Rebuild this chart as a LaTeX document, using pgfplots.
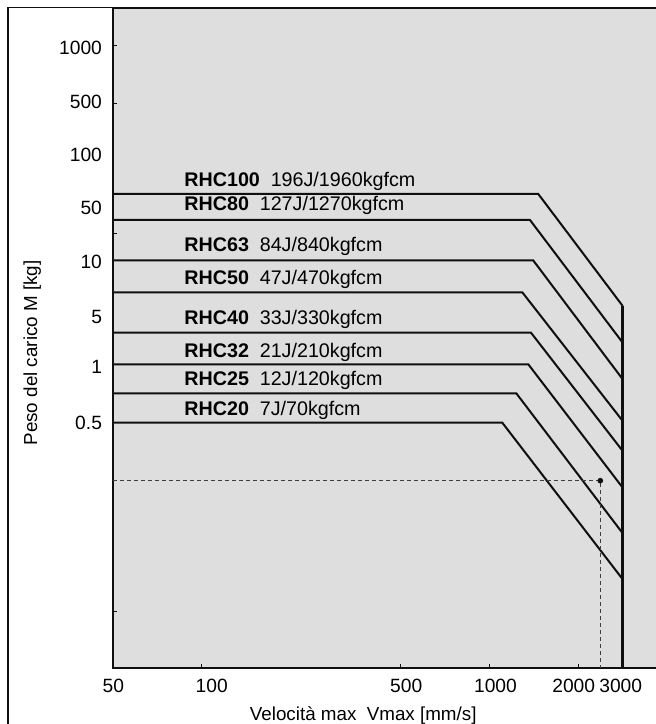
\documentclass[border=0pt]{standalone}
\usepackage{fontspec}
\setmainfont{Liberation Sans}
\usepackage{pgfplots}
\pgfplotsset{compat=1.18}
\definecolor{bg}{RGB}{222,222,222}
\definecolor{ln}{RGB}{15,15,15}
\begin{document}
\begin{tikzpicture}
\useasboundingbox (-56.5pt,-28pt) rectangle (271.5pt,334pt);
\clip (-56.5pt,-28pt) rectangle (271.5pt,334pt);
\begin{axis}[
  at={(0pt,0pt)}, anchor=south west,
  scale only axis, width=280pt, height=330pt,
  xmin=0, xmax=560, ymin=0, ymax=660,
  axis background/.style={fill=bg},
  axis line style={draw=ln, line width=0.55pt},
  tick align=inside, xtick pos=left, ytick pos=left,
  major tick length=0pt,
  tick style={draw=ln, line width=0.5pt},
  xtick={0.3,98.7,293.2,382.5,460.7,507.7},
  xticklabels={50,100,500,1000,2000,3000},
  ytick={245.3,301,351.3,406,460.2,512.8,565.8,620.5},
  yticklabels={0.5,1,5,10,50,100,500,1000},
  extra x ticks={88.7,288,377,465.7},
  extra x tick labels={},
  extra x tick style={major tick length=2pt},
  extra y ticks={57,434,564,622.3},
  extra y tick labels={},
  extra y tick style={major tick length=2pt},
  ticklabel style={font=\fontsize{9.6}{11}\selectfont},
  xticklabel style={yshift=-2pt},
  yticklabel style={xshift=-2pt},
  xlabel={Velocità max\hspace{0.55em}Vmax [mm/s]},
  ylabel={Peso del carico M [kg]},
  xlabel style={at={(axis description cs:0.4468,-0.0788)}, anchor=base, font=\fontsize{9.4}{11}\selectfont},
  ylabel style={at={(axis description cs:-0.1357,0.4773)}, anchor=base, font=\fontsize{9.4}{11}\selectfont},
]
% Series: horizontal plateau, diagonal limit, end on 3000 line
\addplot[ln, line width=1pt] coordinates {(0,474) (425.3,474) (509.7,362)};
\addplot[ln, line width=1pt] coordinates {(0,448) (417,448) (509.7,325.3)};
\addplot[ln, line width=1pt] coordinates {(0,407.5) (420.3,407.5) (509.7,288.7)};
\addplot[ln, line width=1pt] coordinates {(0,375.7) (409.3,375.7) (509.7,247)};
\addplot[ln, line width=1pt] coordinates {(0,335.3) (418,335.3) (509.7,217)};
\addplot[ln, line width=1pt] coordinates {(0,303.7) (415.3,303.7) (509.7,180.3)};
\addplot[ln, line width=1pt] coordinates {(0,274.7) (403.3,274.7) (509.7,134.7)};
\addplot[ln, line width=1pt] coordinates {(0,245.3) (389.3,245.3) (509.7,88.7)};
% 3000 mm/s limit
\addplot[ln, line width=1.3pt] coordinates {(509.7,362) (509.7,0)};
% example reading
\addplot[ln!80, line width=0.5pt, dash pattern=on 2pt off 1.5pt] coordinates {(0,187.3) (487.3,187.3) (487.3,0)};
\addplot[only marks, mark=*, mark size=1.2pt, ln] coordinates {(487.3,187.3)};
% labels
\begin{scope}[every node/.style={anchor=base west, inner sep=0pt, font=\fontsize{9.85}{11}\selectfont}]
\node at (axis cs:71,481.7) {\textbf{RHC100}\hspace{0.55em}196J/1960kgfcm};
\node at (axis cs:71,457.3) {\textbf{RHC80}\hspace{0.55em}127J/1270kgfcm};
\node at (axis cs:71,416.3) {\textbf{RHC63}\hspace{0.55em}84J/840kgfcm};
\node at (axis cs:71,383.8) {\textbf{RHC50}\hspace{0.55em}47J/470kgfcm};
\node at (axis cs:71,343.8) {\textbf{RHC40}\hspace{0.55em}33J/330kgfcm};
\node at (axis cs:71,310.8) {\textbf{RHC32}\hspace{0.55em}21J/210kgfcm};
\node at (axis cs:71,282.2) {\textbf{RHC25}\hspace{0.55em}12J/120kgfcm};
\node at (axis cs:71,252.5) {\textbf{RHC20}\hspace{0.55em}7J/70kgfcm};
\end{scope}
\end{axis}
\draw[ln, line width=0.55pt] (-52.5pt,-40pt) -- (-52.5pt,330.25pt) -- (300pt,330.25pt);
\end{tikzpicture}
\end{document}
